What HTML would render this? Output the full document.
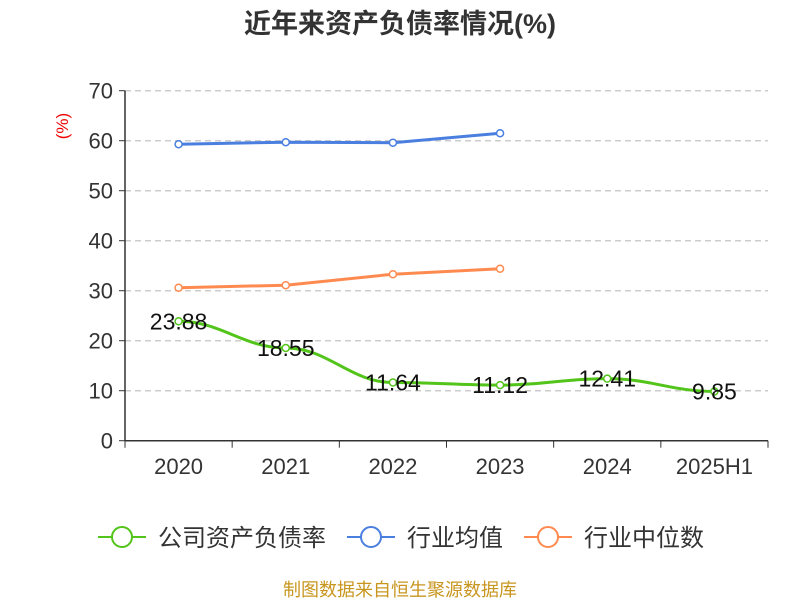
<!DOCTYPE html>
<html><head><meta charset="utf-8"><style>body{margin:0;background:#fff}svg text{font-family:"Liberation Sans","Noto Sans CJK SC",sans-serif}</style></head>
<body>
<svg id="c" width="800" height="600">
<text x="400" y="33" text-anchor="middle" font-size="27" font-weight="bold" fill="#333">近年来资产负债率情况(%)</text>
<text x="68" y="126" font-size="17" fill="#e00" transform="rotate(-90 68 126)" text-anchor="middle">(%)</text>
<g id="grid"></g><g id="axes"></g><g id="series"></g>
<g>
<g><line x1="98" y1="537" x2="146" y2="537" stroke="#52c41a" stroke-width="2"/><circle cx="122" cy="537" r="10" fill="#fff" stroke="#52c41a" stroke-width="2"/><text x="158" y="546" font-size="24" fill="#333">公司资产负债率</text></g>
<g><line x1="347" y1="537" x2="395" y2="537" stroke="#4a7fe0" stroke-width="2"/><circle cx="371" cy="537" r="10" fill="#fff" stroke="#4a7fe0" stroke-width="2"/><text x="407" y="546" font-size="24" fill="#333">行业均值</text></g>
<g><line x1="524" y1="537" x2="572" y2="537" stroke="#ff8a50" stroke-width="2"/><circle cx="548" cy="537" r="10" fill="#fff" stroke="#ff8a50" stroke-width="2"/><text x="584" y="546" font-size="24" fill="#333">行业中位数</text></g>
</g>
<text x="400" y="596" text-anchor="middle" font-size="18" fill="#c8961e">制图数据来自恒生聚源数据库</text>
</svg>
<script>
const categories=["2020","2021","2022","2023","2024","2025H1"];
const company=[23.88,18.55,11.64,11.12,12.41,9.85];
const industryAvg=[59.3,59.7,59.6,61.5];
const industryMedian=[30.6,31.1,33.3,34.4];
const yTicks=[0,10,20,30,40,50,60,70];
const NS="http://www.w3.org/2000/svg";
const L=125,R=768,Y0=440.7,PX=5;
const bw=(R-L)/categories.length;
const xs=i=>L+bw*(i+0.5), ys=v=>Y0-v*PX;
function mk(p,t,a){const e=document.createElementNS(NS,t);for(const k in a)e.setAttribute(k,a[k]);document.getElementById(p).appendChild(e);return e;}
yTicks.forEach(v=>{
 if(v>0){const g=mk('grid','line',{x1:L,x2:R,y1:ys(v),y2:ys(v),stroke:'#ccc','stroke-dasharray':'6,4','stroke-width':1.5});
 
 }
 mk('axes','line',{x1:L-6,x2:L,y1:ys(v),y2:ys(v),stroke:'#333'});
 const tx=mk('axes','text',{x:L-12,y:ys(v)+8,'text-anchor':'end','font-size':22,fill:'#333'});tx.textContent=v;
 
 
});
mk('axes','line',{x1:L,x2:L,y1:ys(70),y2:Y0,stroke:'#333','stroke-width':1.5});
mk('axes','line',{x1:L,x2:R,y1:Y0,y2:Y0,stroke:'#333','stroke-width':1.5});
categories.forEach((c,i)=>{
 mk('axes','line',{x1:L+bw*i,x2:L+bw*i,y1:Y0,y2:Y0+7,stroke:'#333'});
 const t=mk('axes','text',{x:xs(i),y:474,'text-anchor':'middle','font-size':22,fill:'#333'});t.textContent=c;
 
 
});
mk('axes','line',{x1:R,x2:R,y1:Y0,y2:Y0+7,stroke:'#333'});
function series(vals,color,name,smooth,labels){
 const pts=vals.map((v,i)=>[xs(i),ys(v)]);
 let d='M'+pts[0].join(',');
 for(let i=1;i<pts.length;i++){
  if(smooth){const p1=pts[i-1],p2=pts[i],h=(p2[0]-p1[0])*0.4;
   d+=` C${p1[0]+h},${p1[1]} ${p2[0]-h},${p2[1]} ${p2[0]},${p2[1]}`;}
  else d+=' L'+pts[i].join(',');}
 const p=mk('series','path',{d,fill:'none',stroke:color,'stroke-width':3});
 
 
 pts.forEach((q,i)=>{const c=mk('series','circle',{cx:q[0],cy:q[1],r:3.5,fill:'#fff',stroke:color,'stroke-width':1.5});
  
  
  if(labels){const t=mk('series','text',{x:q[0],y:q[1]+8,'text-anchor':'middle','font-size':23,fill:'#111'});t.textContent=vals[i].toFixed(2);
   
   }});
}
series(industryAvg,'#4a7fe0','industry-avg',false,false);
series(industryMedian,'#ff8a50','industry-median',false,false);
series(company,'#52c41a','company',true,true);
</script>
</body></html>
